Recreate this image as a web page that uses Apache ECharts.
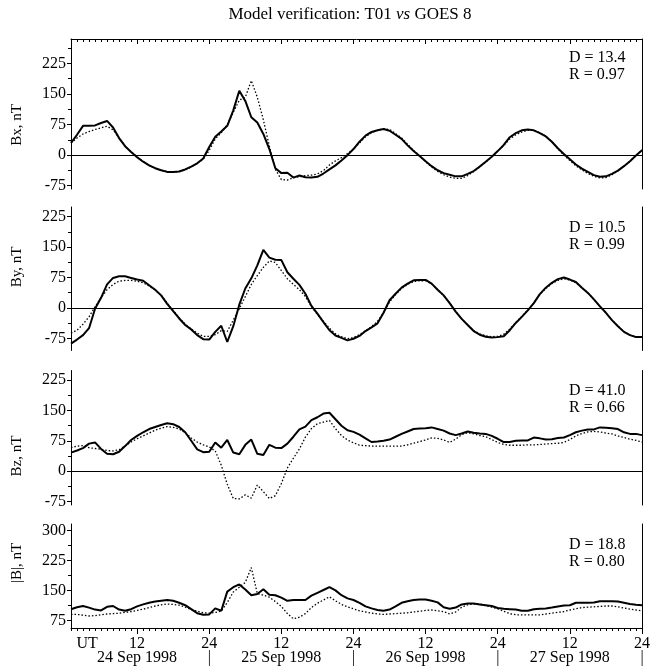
<!DOCTYPE html>
<html><head><meta charset="utf-8">
<script src="https://cdn.jsdelivr.net/npm/echarts@6/dist/echarts.min.js"></script>
<style>html,body{margin:0;padding:0;background:#fff}#c{width:661px;height:666px}</style>
</head><body><div id="c"></div>
<script>
// ---------- data (UT hours 1..96, 24-27 Sep 1998) ----------
const hours = Array.from({length: 96}, (_, i) => i + 1);

const bxObs = [30,50,72,72,73,79,84,68,42,22, 8,-5,-16,-25,-32,-37,-41,-41,-40,-35,
  -28,-20,-8,20,45,58,72,110,158,133, 93,80,52,15,-32,-44,-43,-55,-50,
  -54,-55,-53,-45,-35,-25,-13,0,15,33, 48,57,61,64,60,50,40,24,10,-2,
  -15,-27,-37,-44,-48,-52,-52,-46,-39,-28, -16,-4,10,25,44,54,61,63,61,54,
  46,33,17,3,-10,-23,-33,-41,-49,-53, -52,-46,-38,-27,-15,-1,12];
const bxModel = [30,42,52,58,63,67,71,62,42,22, 8,-4,-15,-25,-32,-37,-40,-42,-40,-36,
  -29,-20,-10,12,40,55,75,105,135,142, 183,142,87,22,-35,-60,-61,-55,-53,
  -50,-49,-46,-38,-24,-14,-6,4,15,30, 45,55,61,65,63,53,42,27,12,-2,
  -16,-29,-40,-48,-54,-57,-57,-50,-40,-29, -17,-4,10,24,40,50,57,61,61,55,
  47,33,16,0,-13,-26,-36,-45,-52,-56, -55,-48,-38,-27,-15,-1,13];

const byObs = [-88,-78,-67,-50,-2,25,58,74,78,78, 74,70,67,56,45,31,10,-8,-26,-42,
  -53,-67,-77,-78,-59,-44,-84,-45,8,48, 73,105,143,124,119,118,88,72,57,35,
  5,-14,-35,-55,-68,-74,-80,-76,-69,-57, -48,-38,-12,19,35,50,60,68,69,69,
  60,45,31,12,-9,-27,-42,-57,-66,-71, -73,-72,-70,-55,-37,-22,-6,12,34,50,
  62,71,75,70,64,50,37,21,4,-12, -30,-45,-59,-67,-72,-72];
const byModel = [-62,-55,-40,-22,3,25,45,58,66,68, 68,66,62,54,44,31,12,-6,-24,-40,
  -52,-62,-70,-70,-66,-56,-58,-30,-2,28, 58,80,100,116,112,92,72,58,45,28,
  3,-16,-33,-50,-64,-71,-76,-73,-66,-56, -46,-33,-12,15,33,48,58,65,67,67,
  59,45,31,12,-9,-27,-42,-56,-64,-69, -71,-70,-65,-52,-36,-21,-5,12,33,48,
  60,68,72,69,62,50,37,21,4,-12, -30,-45,-58,-67,-71,-72];

const bzObs = [46,51,57,68,71,55,43,42,48,62, 77,87,96,104,109,114,118,116,109,96,
  75,54,47,48,71,58,77,46,42,65, 78,43,40,65,58,57,68,85,103,110,
  126,133,142,144,128,112,101,97,90,81, 72,73,75,78,85,92,98,104,105,106,
  108,104,100,93,89,93,98,95,93,92, 87,80,72,72,75,76,76,83,81,78,
  79,82,83,89,96,100,103,103,108,107, 106,104,96,92,92,89];
const bzModel = [58,62,63,58,56,54,51,50,53,62, 72,80,87,94,101,106,110,108,104,95,
  82,72,65,60,50,15,-32,-67,-68,-58, -66,-34,-50,-67,-60,-30,8,32,55,84,
  105,117,121,125,105,88,77,70,64,63, 62,62,62,62,62,62,65,69,73,77,
  82,81,77,71,79,90,95,92,88,85, 78,71,66,64,64,64,65,65,66,67,
  68,69,71,78,87,93,97,98,97,94, 92,87,83,79,76,72];

const btObs = [103,108,111,107,102,100,109,111,102,99, 103,110,115,119,122,124,126,124,119,113,
  103,93,89,90,105,99,147,158,165,152, 138,141,153,139,138,132,124,126,126,126,
  137,144,151,158,150,138,130,126,119,110, 105,101,99,102,110,119,123,126,127,127,
  124,120,108,104,107,115,117,117,115,113, 111,106,104,103,102,99,99,103,104,105,
  107,110,112,113,119,119,119,120,123,123, 123,122,119,116,114,113];
const btModel = [90,90,88,86,87,89,91,92,93,95, 97,100,103,107,111,114,116,115,113,108,
  102,98,94,93,95,98,120,146,158,170, 207,142,138,133,122,110,92,79,83,92,
  107,118,126,134,124,115,109,104,99,96, 93,91,90,91,92,93,94,96,98,100,
  101,99,97,91,96,108,114,116,116,112, 108,104,98,92,89,89,89,89,89,91,
  93,95,97,101,104,107,108,109,110,111, 111,109,106,103,101,99];

const panelNames = ['Bx, nT', 'By, nT', 'Bz, nT', '|B|, nT'];
const statD = ['13.4', '10.5', '41.0', '18.8'];
const statR = ['0.97', '0.99', '0.66', '0.80'];
const hourTickValues = [12, 24, 36, 48, 60, 72, 84, 96];
const hourTickLabels = ['12', '24', '12', '24', '12', '24', '12', '24'];
const dateRowLabels = ['24 Sep 1998', '|', '25 Sep 1998', '|', '26 Sep 1998', '|', '27 Sep 1998', '|'];
const utLabelAt = 3.7;
const yLabelValues = [[-75, 0, 75, 150, 225], [-75, 0, 75, 150, 225], [-75, 0, 75, 150, 225], [75, 150, 225, 300]];
const yMinorValues = [[-37.5, 37.5, 112.5, 187.5, 262.5], [-37.5, 37.5, 112.5, 187.5], [-37.5, 37.5, 112.5, 187.5], [112.5, 187.5, 262.5]];

// ---------- layout ----------
const FONT = '"Liberation Serif", "Times New Roman", serif';
const panels = [
  {top: 39,    height: 150,   min: -83, max: 285, obs: bxObs, mod: bxModel, zero: true,  nameY: 125, statY: 58},
  {top: 207,   height: 143.5, min: -105, max: 249, obs: byObs, mod: byModel, zero: true, nameY: 267, statY: 228},
  {top: 370.5, height: 134.5, min: -83, max: 248, obs: bzObs, mod: bzModel, zero: true,  nameY: 456, statY: 391},
  {top: 524,   height: 104,   min: 56,  max: 316, obs: btObs, mod: btModel, zero: false, nameY: 563, statY: 545}
];

const grid = panels.map(p => ({left: 71, width: 571, top: p.top, height: p.height, containLabel: false, outerBoundsMode: 'none'}));

function xa(g, extra) {
  return Object.assign({type: 'value', gridIndex: g, min: 1, max: 96,
    axisLine: {show: false, onZero: false}, axisTick: {show: false},
    axisLabel: {show: false}, splitLine: {show: false}}, extra);
}
function ya(g, p, extra) {
  return Object.assign({type: 'value', gridIndex: g, min: p.min, max: p.max,
    axisLine: {show: false, onZero: false}, axisTick: {show: false},
    axisLabel: {show: false}, splitLine: {show: false}}, extra);
}
const line = {show: true, onZero: false, lineStyle: {color: '#000', width: 1}};

const xAxis = [
  // panel 1: base + top ticks
  xa(0, {}),
  xa(0, {position: 'top', axisLine: line, axisTick: {show: true, inside: true, length: 3, customValues: hours, lineStyle: {color: '#000', width: 1}}}),
  xa(0, {position: 'top', axisTick: {show: true, inside: true, length: 5, customValues: hourTickValues, lineStyle: {color: '#000', width: 1}}}),
  // panels 2,3
  xa(1, {}),
  xa(2, {}),
  // panel 4 bottom axis
  xa(3, {position: 'bottom', axisLine: line, axisTick: {show: true, inside: false, length: 3, customValues: hours, lineStyle: {color: '#000', width: 1}}}),
  xa(3, {position: 'bottom', axisTick: {show: true, inside: false, length: 6, customValues: hourTickValues, lineStyle: {color: '#000', width: 1}},
    axisLabel: {show: true, margin: 8, customValues: [utLabelAt].concat(hourTickValues), color: '#000', fontFamily: FONT, fontSize: 16,
      formatter: v => v === utLabelAt ? 'UT' : hourTickLabels[hourTickValues.indexOf(v)]}}),
  xa(3, {position: 'bottom', axisLabel: {show: true, margin: 22, customValues: hourTickValues, color: '#000', fontFamily: FONT, fontSize: 16,
      formatter: v => dateRowLabels[hourTickValues.indexOf(v)]}})
];
const seriesX = [0, 3, 4, 5];

const yAxis = [];
const seriesY = [];
panels.forEach((p, g) => {
  seriesY.push(yAxis.length);
  yAxis.push(ya(g, p, {position: 'left', axisLine: line,
    axisTick: {show: true, inside: false, length: 4, customValues: yLabelValues[g], lineStyle: {color: '#000', width: 1}},
    axisLabel: {show: true, margin: 5, customValues: yLabelValues[g], color: '#000', fontFamily: FONT, fontSize: 16}}));
  yAxis.push(ya(g, p, {position: 'left',
    axisTick: {show: true, inside: false, length: 3, customValues: yMinorValues[g], lineStyle: {color: '#000', width: 1}}}));
  yAxis.push(ya(g, p, {position: 'right', axisLine: line}));
});

const series = [];
panels.forEach((p, g) => {
  const s = {
    type: 'line', xAxisIndex: seriesX[g], yAxisIndex: seriesY[g],
    data: hours.map((h, i) => [h, p.obs[i]]), symbol: 'none', showSymbol: false,
    lineStyle: {color: '#000', width: 2}, z: 3, silent: true
  };
  if (p.zero) {
    s.markLine = {silent: true, symbol: ['none', 'none'], label: {show: false},
      lineStyle: {color: '#000', width: 1.2, type: 'solid'}, data: [{yAxis: 0}], animation: false};
  }
  series.push({
    type: 'line', xAxisIndex: seriesX[g], yAxisIndex: seriesY[g],
    data: hours.map((h, i) => [h, p.mod[i]]), symbol: 'none', showSymbol: false,
    lineStyle: {color: '#000', width: 1.3, type: [1.5, 2]}, z: 2, silent: true
  });
  series.push(s);
});

const graphic = [
  {type: 'text', x: 350, y: 15, style: {
    text: '{n|Model verification: T01 }{i|vs}{n| GOES 8}', align: 'center', verticalAlign: 'middle',
    rich: {n: {fontFamily: FONT, fontSize: 17, fill: '#000'}, i: {fontFamily: FONT, fontSize: 17, fontStyle: 'italic', fill: '#000'}}}}
];
panels.forEach((p, g) => {
  graphic.push({type: 'text', x: 17, y: p.nameY, rotation: Math.PI / 2, style: {
    text: panelNames[g], align: 'center', verticalAlign: 'middle', fontFamily: FONT, fontSize: 15, fill: '#000'}});
  graphic.push({type: 'text', x: 569, y: p.statY, style: {
    text: 'D = ' + statD[g], align: 'left', verticalAlign: 'middle', fontFamily: FONT, fontSize: 16, fill: '#000'}});
  graphic.push({type: 'text', x: 569, y: p.statY + 17, style: {
    text: 'R = ' + statR[g], align: 'left', verticalAlign: 'middle', fontFamily: FONT, fontSize: 16, fill: '#000'}});
});

const chart = echarts.init(document.getElementById('c'), null, {renderer: 'canvas'});
chart.setOption({animation: false, backgroundColor: '#fff', grid, xAxis, yAxis, series, graphic});
</script></body></html>
